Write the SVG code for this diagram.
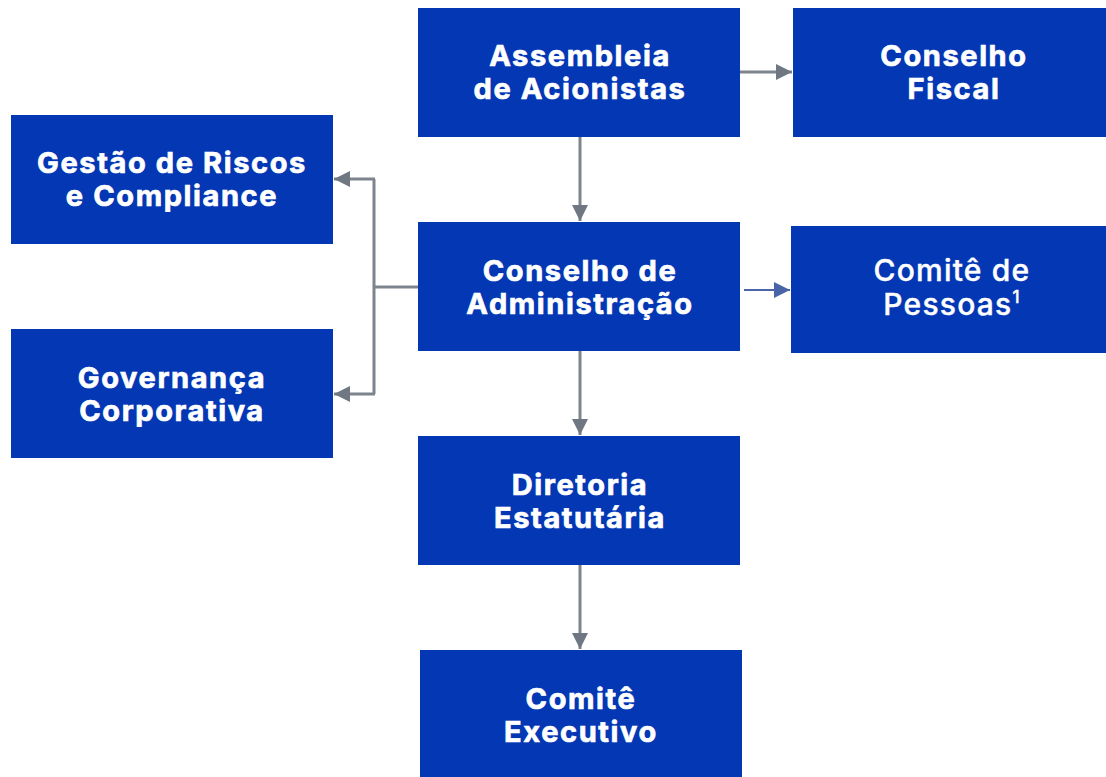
<svg xmlns="http://www.w3.org/2000/svg" width="1106" height="777" viewBox="0 0 1106 777">
<style>
.box{fill:#0437b4}
.t{font-family:Inter,"Noto Sans","Liberation Sans",sans-serif;font-weight:700;font-size:29px;letter-spacing:1.6px;fill:#fff;stroke:#fff;stroke-width:0.7px;text-anchor:middle}
.t2{font-family:Inter,"Noto Sans","Liberation Sans",sans-serif;font-weight:500;font-size:30px;letter-spacing:1.2px;fill:#fff;stroke:#fff;stroke-width:0.4px;text-anchor:middle}
.c{stroke:#7d848e;stroke-width:3;fill:none}
.cb{stroke:#4a64a8;stroke-width:2;fill:none}
</style>
<defs>
<marker id="ag" viewBox="0 0 10 10" refX="10" refY="5" markerWidth="20" markerHeight="16" markerUnits="userSpaceOnUse" orient="auto"><path d="M0,0L10,5L0,10z" fill="#6f7782"/></marker>
<marker id="ab" viewBox="0 0 10 10" refX="10" refY="5" markerWidth="16" markerHeight="16" markerUnits="userSpaceOnUse" orient="auto"><path d="M0,0L10,5L0,10z" fill="#4a64a8"/></marker>
</defs>
<rect width="1106" height="777" fill="#fff"/>
<g id="connectors">
<path class="c" d="M740,72H792" marker-end="url(#ag)"/>
<path class="c" d="M580,137V221" marker-end="url(#ag)"/>
<path class="c" d="M580,351V435" marker-end="url(#ag)"/>
<path class="c" d="M580,565V649" marker-end="url(#ag)"/>
<path class="c" d="M418,287H374"/>
<path class="c" d="M374,179V394"/>
<path class="c" d="M375,179H334" marker-end="url(#ag)"/>
<path class="c" d="M375,394H334" marker-end="url(#ag)"/>
<path class="cb" d="M744,290H790" marker-end="url(#ab)"/>
</g>
<g id="assembleia"><rect class="box" x="418" y="8" width="322" height="129"/><text class="t" x="580" y="66">Assembleia</text><text class="t" x="580" y="99">de Acionistas</text></g>
<g id="conselho-fiscal"><rect class="box" x="793" y="8" width="313" height="129"/><text class="t" x="954" y="66">Conselho</text><text class="t" x="954" y="99">Fiscal</text></g>
<g id="gestao-riscos"><rect class="box" x="11" y="115" width="322" height="129"/><text class="t" x="172" y="173">Gestão de Riscos</text><text class="t" x="172" y="206">e Compliance</text></g>
<g id="conselho-adm"><rect class="box" x="418" y="222" width="322" height="129"/><text class="t" x="580" y="281">Conselho de</text><text class="t" x="580" y="314">Administração</text></g>
<g id="comite-pessoas"><rect class="box" x="791" y="226" width="315" height="127"/><text class="t2" x="952" y="281">Comitê de</text><text class="t2" x="952" y="315">Pessoas<tspan font-size="17" dy="-12">1</tspan></text></g>
<g id="governanca"><rect class="box" x="11" y="329" width="322" height="129"/><text class="t" x="172" y="388">Governança</text><text class="t" x="172" y="421">Corporativa</text></g>
<g id="diretoria"><rect class="box" x="418" y="436" width="322" height="129"/><text class="t" x="580" y="495">Diretoria</text><text class="t" x="580" y="528">Estatutária</text></g>
<g id="comite-executivo"><rect class="box" x="420" y="650" width="322" height="127"/><text class="t" x="581" y="709">Comitê</text><text class="t" x="581" y="742">Executivo</text></g>
</svg>
